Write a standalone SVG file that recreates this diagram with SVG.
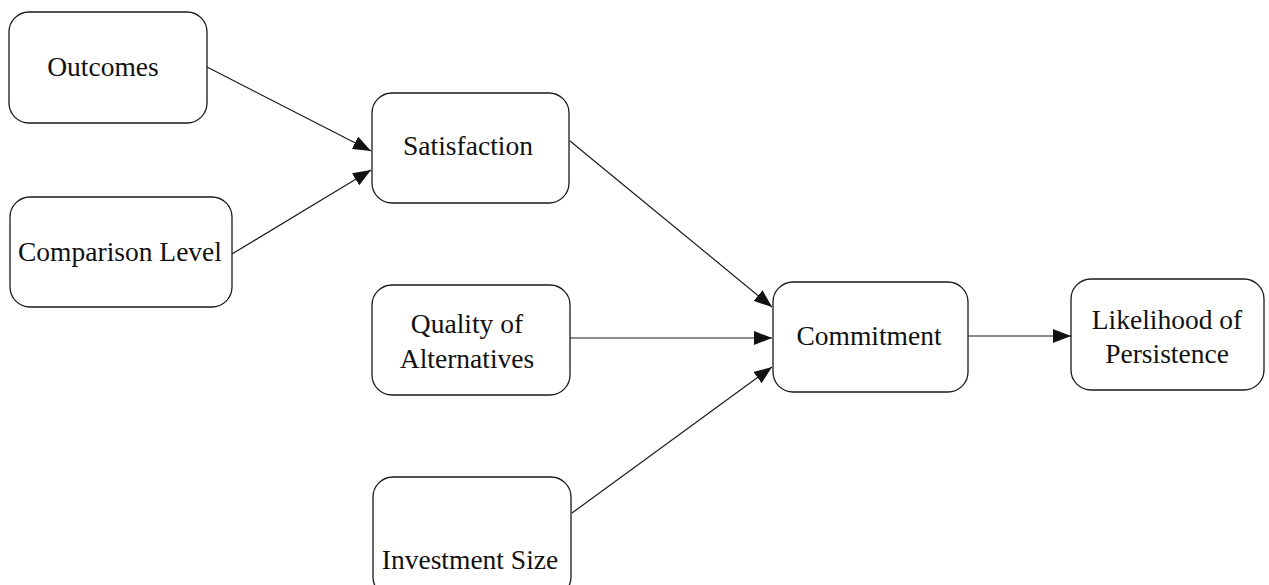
<svg xmlns="http://www.w3.org/2000/svg" width="1269" height="585" viewBox="0 0 1269 585">
  <style>
    .box { fill: #ffffff; stroke: #1a1a1a; stroke-width: 1.3; }
    .lbl { font-family: "Liberation Serif", "Times New Roman", serif; font-size: 27.5px; fill: #111111; text-anchor: middle; }
    .edge { stroke: #1a1a1a; stroke-width: 1.2; fill: none; marker-end: url(#head); }
  </style>
  <defs>
    <marker id="head" markerUnits="userSpaceOnUse" markerWidth="20" markerHeight="14" refX="18" refY="7" orient="auto">
      <path d="M0,0 L18,7 L0,14 Z" fill="#111111"/>
    </marker>
  </defs>
  <rect width="1269" height="585" fill="#ffffff"/>

  <g id="connectors">
    <line class="edge" x1="207" y1="67" x2="371" y2="151"/>
    <line class="edge" x1="232" y1="254" x2="371" y2="170"/>
    <line class="edge" x1="570" y1="141" x2="772" y2="307"/>
    <line class="edge" x1="570" y1="338" x2="772" y2="338"/>
    <line class="edge" x1="572" y1="513" x2="772" y2="367"/>
    <line class="edge" x1="968" y1="336" x2="1071" y2="336"/>
  </g>

  <g id="outcomes">
    <rect class="box" x="9" y="12" width="198" height="111" rx="20"/>
    <text class="lbl" x="103" y="76">Outcomes</text>
  </g>
  <g id="comparison-level">
    <rect class="box" x="10" y="197" width="222" height="110" rx="20"/>
    <text class="lbl" x="120" y="261">Comparison Level</text>
  </g>
  <g id="satisfaction">
    <rect class="box" x="372" y="93" width="197" height="110" rx="20"/>
    <text class="lbl" x="468" y="155">Satisfaction</text>
  </g>
  <g id="quality-of-alternatives">
    <rect class="box" x="372" y="285" width="198" height="110" rx="20"/>
    <text class="lbl" x="467" y="333">Quality of</text>
    <text class="lbl" x="467" y="368">Alternatives</text>
  </g>
  <g id="investment-size">
    <rect class="box" x="373" y="477" width="198" height="120" rx="20"/>
    <text class="lbl" x="470" y="569">Investment Size</text>
  </g>
  <g id="commitment">
    <rect class="box" x="773" y="282" width="195" height="110" rx="20"/>
    <text class="lbl" x="869" y="345">Commitment</text>
  </g>
  <g id="likelihood-of-persistence">
    <rect class="box" x="1071" y="279" width="193" height="111" rx="20"/>
    <text class="lbl" x="1167" y="329">Likelihood of</text>
    <text class="lbl" x="1167" y="363">Persistence</text>
  </g>
</svg>
